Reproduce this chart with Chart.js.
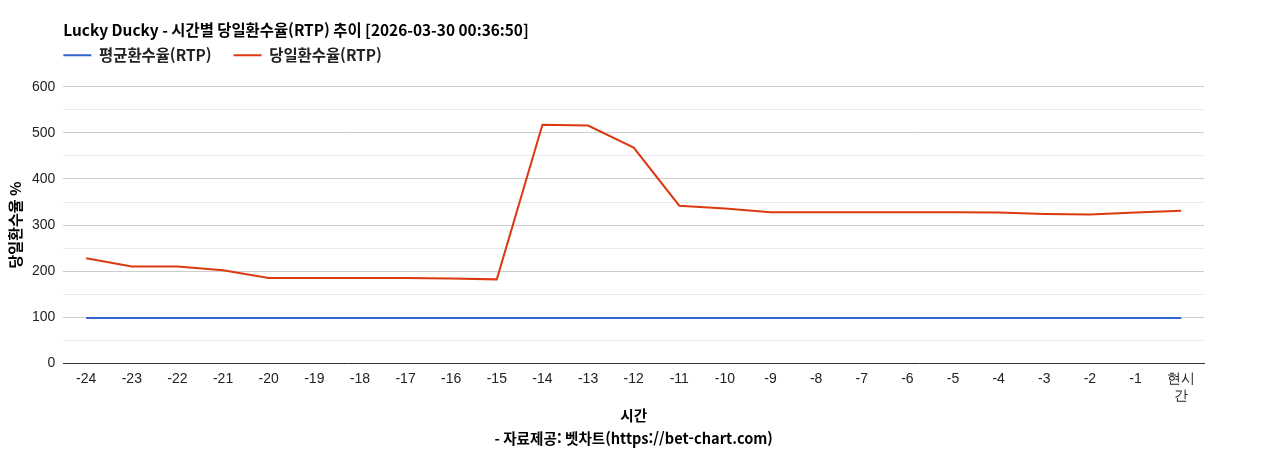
<!DOCTYPE html>
<html lang="ko">
<head>
<meta charset="utf-8">
<title>Lucky Ducky RTP</title>
<script src="https://cdn.jsdelivr.net/npm/chart.js@4.4.1/dist/chart.umd.min.js"></script>
<style>
  html, body { margin: 0; padding: 0; background: #fff; }
  #wrap { width: 1268px; height: 450px; }
</style>
</head>
<body>
<div id="wrap"><canvas id="rtpChart"></canvas></div>
<script>
// Données du graphique
const heures = ['-24', '-23', '-22', '-21', '-20', '-19', '-18', '-17', '-16', '-15', '-14', '-13',
                '-12', '-11', '-10', '-9', '-8', '-7', '-6', '-5', '-4', '-3', '-2', '-1', ['현시', '간']];
const rtpMoyen = [98, 98, 98, 98, 98, 98, 98, 98, 98, 98, 98, 98,
                  98, 98, 98, 98, 98, 98, 98, 98, 98, 98, 98, 98, 98];
const rtpJour = [228, 210, 210, 202, 185, 185, 185, 185, 184, 182, 518, 516,
                 468, 342, 336, 328, 328, 328, 328, 328, 327, 324, 323, 327, 331];
const yTicks = [0, 100, 200, 300, 400, 500, 600];

const titre = 'Lucky Ducky - 시간별 당일환수율(RTP) 추이 [2026-03-30 00:36:50]';
const source = '- 자료제공: 벳차트(https://bet-chart.com)';

const fontKo = '"Noto Sans CJK KR", "Noto Sans", sans-serif';
const fontTick = '"Liberation Sans", Arial, sans-serif';

// Decale la legende pour l'aligner sur la zone du graphique
const legendeAGauche = {
    id: 'legendeAGauche',
    afterUpdate(chart) {
        const lg = chart.legend;
        lg.left = chart.chartArea.left - lg.options.labels.padding;
        lg.adjustHitBoxes();
    }
};

const ctx = document.getElementById('rtpChart').getContext('2d');
const rtpChart = new Chart(ctx, {
    type: 'line',
    data: {
        labels: heures,
        datasets: [
            {
                label: '평균환수율(RTP)',
                data: rtpMoyen,
                borderColor: '#3366cc',
                backgroundColor: '#3366cc',
                borderWidth: 2,
                pointRadius: 0,
                tension: 0
            },
            {
                label: '당일환수율(RTP)',
                data: rtpJour,
                borderColor: '#dc3912',
                backgroundColor: '#dc3912',
                borderWidth: 2,
                pointRadius: 0,
                tension: 0
            }
        ]
    },
    options: {
        responsive: true,
        maintainAspectRatio: false,
        animation: false,
        layout: { padding: { left: 0, right: 64, top: 0, bottom: 0 } },
        plugins: {
            title: {
                display: true,
                text: titre,
                align: 'start',
                fullSize: false,
                color: '#000',
                font: { family: fontKo, size: 15.4, weight: 'bold', lineHeight: 1.2 },
                padding: { top: 21, bottom: -14 }
            },
            legend: {
                display: true,
                position: 'top',
                align: 'start',
                fullSize: false,
                labels: {
                    usePointStyle: true,
                    pointStyle: 'line',
                    pointStyleWidth: 28,
                    padding: 22,
                    color: '#222',
                    font: { family: fontKo, size: 15.4, weight: 'bold' }
                }
            },
            subtitle: {
                // simple espace entre la legende et le graphique
                display: true,
                text: ' ',
                weight: 500,
                font: { size: 10, lineHeight: 1.4 },
                padding: 0
            },
            tooltip: { enabled: false }
        },
        scales: {
            x: {
                offset: true,
                grid: { display: false, drawTicks: false },
                border: { display: true, color: '#333', width: 1 },
                ticks: {
                    color: '#222',
                    font: { family: fontTick, size: 14 },
                    maxRotation: 0,
                    autoSkip: false,
                    padding: 8
                },
                title: {
                    display: true,
                    text: ['시간', source],
                    color: '#000',
                    font: { family: fontKo, size: 14.6, weight: 'bold', lineHeight: 1.6 },
                    padding: { top: -9.5, bottom: 0 }
                }
            },
            y: {
                min: 0,
                max: 600,
                grid: {
                    drawTicks: false,
                    color: (c) => (c.tick.value % 100 === 0 ? '#cccccc' : '#ebebeb')
                },
                border: { display: false },
                ticks: {
                    stepSize: 50,
                    color: '#222',
                    font: { family: fontTick, size: 14 },
                    padding: 8,
                    callback: (v) => (yTicks.includes(v) ? v : '')
                },
                title: {
                    display: true,
                    text: '당일환수율 %',
                    color: '#000',
                    font: { family: fontKo, size: 15, weight: 'bold' },
                    padding: { top: 6, bottom: 0 }
                }
            }
        }
    },
    plugins: [legendeAGauche]
});
</script>
</body>
</html>
